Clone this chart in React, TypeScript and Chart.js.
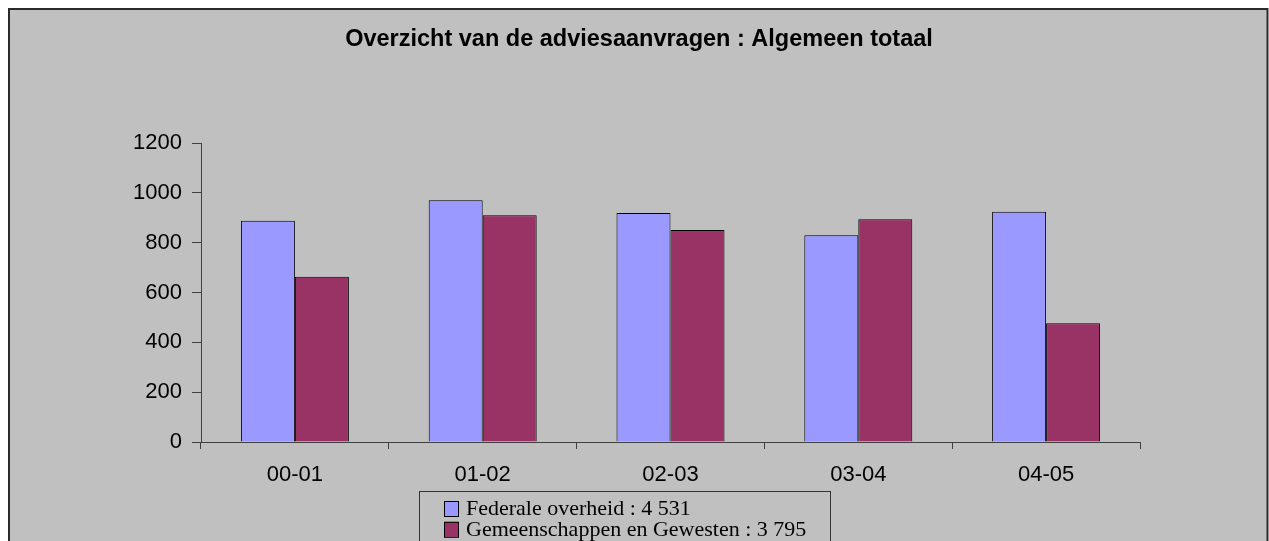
import React, { useEffect, useRef } from 'react';
import { Chart, registerables } from 'chart.js';

Chart.register(...registerables);

// ---- data ----
const categories = ['00-01', '01-02', '02-03', '03-04', '04-05'];
const federale = [888, 970, 919, 830, 924];
const gemeenschappen = [663, 910, 851, 894, 477];
const seriesLabels = ['Federale overheid : 4 531', 'Gemeenschappen en Gewesten : 3 795'];
const seriesColors = ['#9999FF', '#993366'];
const yMin = 0;
const yMax = 1200;
const yStep = 200;
const titleText = 'Overzicht van de adviesaanvragen : Algemeen totaal';

const W = 1269;
const H = 541;
const axisColor = '#404040';
const sans = 'Arial, "Liberation Sans", sans-serif';
const serif = '"Times New Roman", "Liberation Serif", serif';

export default function App() {
  const ref = useRef<HTMLCanvasElement>(null);

  useEffect(() => {
    const canvas = ref.current;
    if (!canvas) return;

    const decor = {
      id: 'decor',
      beforeDraw(chart: any) {
        const ctx = chart.ctx;
        ctx.save();
        ctx.fillStyle = '#ffffff';
        ctx.fillRect(0, 0, W, H);
        ctx.fillStyle = '#C0C0C0';
        ctx.fillRect(9, 9, 1259, H);
        ctx.strokeStyle = '#2a2a2a';
        ctx.lineWidth = 2;
        ctx.strokeRect(9, 9, 1258.5, H + 20);
        ctx.restore();
      },
      afterDraw(chart: any) {
        const ctx = chart.ctx;
        ctx.save();
        // title
        ctx.fillStyle = '#000';
        ctx.font = `bold 23.5px ${sans}`;
        ctx.textAlign = 'center';
        ctx.textBaseline = 'alphabetic';
        ctx.fillText(titleText, 639, 46);
        // legend box
        ctx.strokeStyle = '#333';
        ctx.lineWidth = 1;
        ctx.strokeRect(419.5, 491.5, 411, 80);
        ctx.font = `22px ${serif}`;
        ctx.textAlign = 'left';
        chart.data.datasets.forEach((ds: any, i: number) => {
          const y = 501 + i * 20.8;
          ctx.fillStyle = ds.backgroundColor;
          ctx.fillRect(444, y, 14, 15);
          ctx.strokeStyle = '#000';
          ctx.strokeRect(444.5, y + 0.5, 14, 15);
          ctx.fillStyle = '#000';
          ctx.fillText(ds.label, 466, y + 14);
        });
        ctx.restore();
      },
    };

    const chart = new Chart(canvas, {
      type: 'bar',
      data: {
        labels: categories,
        datasets: [
          {
            label: seriesLabels[0],
            data: federale,
            backgroundColor: seriesColors[0],
            borderColor: '#000',
            borderWidth: 1,
            categoryPercentage: 0.575,
            barPercentage: 1,
          },
          {
            label: seriesLabels[1],
            data: gemeenschappen,
            backgroundColor: seriesColors[1],
            borderColor: '#000',
            borderWidth: 1,
            categoryPercentage: 0.575,
            barPercentage: 1,
          },
        ],
      },
      options: {
        responsive: false,
        animation: false,
        layout: { padding: { left: 0, right: 129, top: 143, bottom: 0 } },
        plugins: {
          legend: { display: false },
          title: { display: false },
          tooltip: { enabled: false },
        },
        scales: {
          x: {
            grid: { drawOnChartArea: false, tickLength: 7, color: axisColor, offset: true },
            border: { color: axisColor, width: 1 },
            ticks: { font: { family: sans, size: 22 }, color: '#000', padding: 13, maxRotation: 0 },
            afterFit: (s: any) => {
              s.height = 99;
            },
          },
          y: {
            min: yMin,
            max: yMax,
            grid: { drawOnChartArea: false, tickLength: 9, color: axisColor },
            border: { color: axisColor, width: 1 },
            ticks: {
              stepSize: yStep,
              font: { family: sans, size: 22 },
              color: '#000',
              padding: 10,
              callback: (v: any) => String(v),
            },
            afterFit: (s: any) => {
              s.width = 201;
            },
          },
        },
      },
      plugins: [decor],
    });

    return () => chart.destroy();
  }, []);

  return (
    <div style={{ position: 'fixed', left: 0, top: 0, width: W, height: H }}>
      <canvas ref={ref} width={W} height={H} style={{ display: 'block' }} />
    </div>
  );
}
